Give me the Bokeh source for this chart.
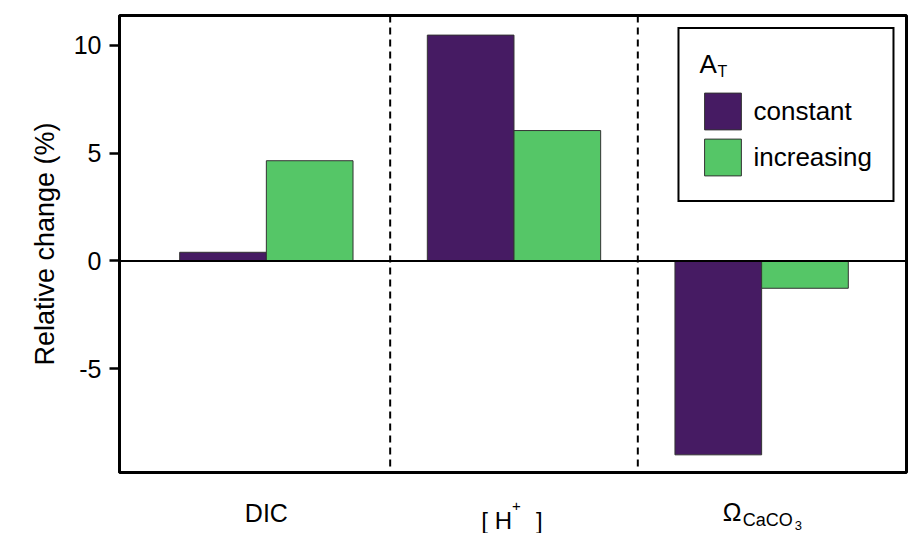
from bokeh.plotting import figure
from bokeh.layouts import column
from bokeh.models import (Range1d, FixedTicker, Span, Legend, LegendItem, Label,
                          ColumnDataSource)
from bokeh.core.properties import value
from bokeh.embed import file_html
from bokeh.resources import INLINE

# ---- data ----
categories = ["DIC", "[ H+ ]", "ΩCaCO3"]
cat_pos = [1, 2, 3]
constant = [0.40, 10.48, -9.00]
increasing = [4.65, 6.05, -1.27]
y_ticks = [-5, 0, 5, 10]
series_names = ["constant", "increasing"]

PURPLE = "#461B63"
GREEN = "#55C667"
FONT = "Liberation Sans"
BAR_W = 0.35

X0, X1 = 0.407, 3.585
Y0, Y1 = -9.82, 11.39
W = 909
ML, MR = 119, 3

p = figure(width=W, height=474, x_range=Range1d(X0, X1), y_range=Range1d(Y0, Y1),
           output_backend="svg", toolbar_location=None,
           min_border_left=ML, min_border_right=MR, min_border_top=15, min_border_bottom=2)
p.xgrid.visible = False
p.ygrid.visible = False
p.outline_line_color = "black"
p.outline_line_width = 3
p.background_fill_color = "white"
p.border_fill_color = "white"

src = ColumnDataSource(dict(
    xc=[x - BAR_W / 2 for x in cat_pos],
    xi=[x + BAR_W / 2 for x in cat_pos],
    c=constant, i=increasing))

r1 = p.vbar(x="xc", top="c", bottom=0, width=BAR_W, source=src,
            fill_color=PURPLE, line_color="#333333", line_width=1)
r2 = p.vbar(x="xi", top="i", bottom=0, width=BAR_W, source=src,
            fill_color=GREEN, line_color="#333333", line_width=1)

# separators and zero line
for b in [(cat_pos[0] + cat_pos[1]) / 2, (cat_pos[1] + cat_pos[2]) / 2]:
    p.add_layout(Span(location=b, dimension="height", line_color="black",
                      line_width=2, line_dash="7 5"))
p.add_layout(Span(location=0, dimension="width", line_color="black", line_width=2))

# y axis
ya = p.yaxis[0]
ya.ticker = FixedTicker(ticks=y_ticks)
ya.major_label_overrides = {t: str(t) for t in y_ticks}
ya.minor_tick_line_color = None
ya.major_tick_in = 0
ya.major_tick_out = 10
ya.major_tick_line_width = 2.5
ya.axis_line_width = 3
ya.major_label_text_font = FONT
ya.major_label_text_font_size = "25px"
ya.major_label_text_color = "black"
ya.major_label_standoff = 8
ya.axis_label = "Relative change (%)"
ya.axis_label_text_font = FONT
ya.axis_label_text_font_size = "27px"
ya.axis_label_text_font_style = "normal"
ya.axis_label_text_color = "black"
ya.axis_label_standoff = 11

p.xaxis.visible = False

# legend (transparent background so the subscript label below it shows)
legend = Legend(items=[LegendItem(label=series_names[0], renderers=[r1]),
                       LegendItem(label=series_names[1], renderers=[r2])],
                location="top_right", title="A",
                title_text_font=FONT, title_text_font_size="26px",
                title_text_font_style="normal", title_text_color="black",
                title_standoff=8,
                label_text_font=FONT, label_text_font_size="26px",
                label_text_color="black",
                glyph_width=46, glyph_height=46, spacing=0, label_standoff=8,
                padding=20, margin=12, border_line_color="black",
                border_line_alpha=1.0,
                border_line_width=2.5, background_fill_alpha=0)
p.add_layout(legend)
p.add_layout(Label(x=X1, y=Y1, x_offset=-189, y_offset=-56, text="T",
                   text_font=FONT, text_font_size="16px", text_color="black",
                   text_baseline="alphabetic"))

# ---- category labels strip (below the frame) ----
p2 = figure(width=W, height=59, x_range=p.x_range, y_range=Range1d(0, 59),
            output_backend="svg", toolbar_location=None,
            min_border_left=ML, min_border_right=MR, min_border_top=0, min_border_bottom=0)
p2.axis.visible = False
p2.grid.visible = False
p2.outline_line_color = None
p2.background_fill_color = "white"
p2.border_fill_color = "white"

# (category index, text, x offset px, baseline px from bottom, size, align)
label_parts = [
    (0, "DIC", 0, 21, "25px", "center"),
    (1, "[ H", -2, 13, "24px", "right"),
    (1, "+", -2, 28, "15px", "left"),
    (1, "]", 22, 13, "24px", "left"),
    (2, "Ω", -39, 22, "25px", "left"),
    (2, "CaCO", -19, 14, "18px", "left"),
    (2, "3", 33, 8, "13px", "left"),
]
for ci, txt, xo, yb, size, align in label_parts:
    p2.text(x=[cat_pos[ci]], y=[yb], text=[txt], x_offset=xo,
            text_font=value(FONT), text_font_size=value(size), text_color="black",
            text_align=align, text_baseline="alphabetic")

layout = column(p, p2, spacing=0)
open("out.html", "w").write(file_html(layout, INLINE))
